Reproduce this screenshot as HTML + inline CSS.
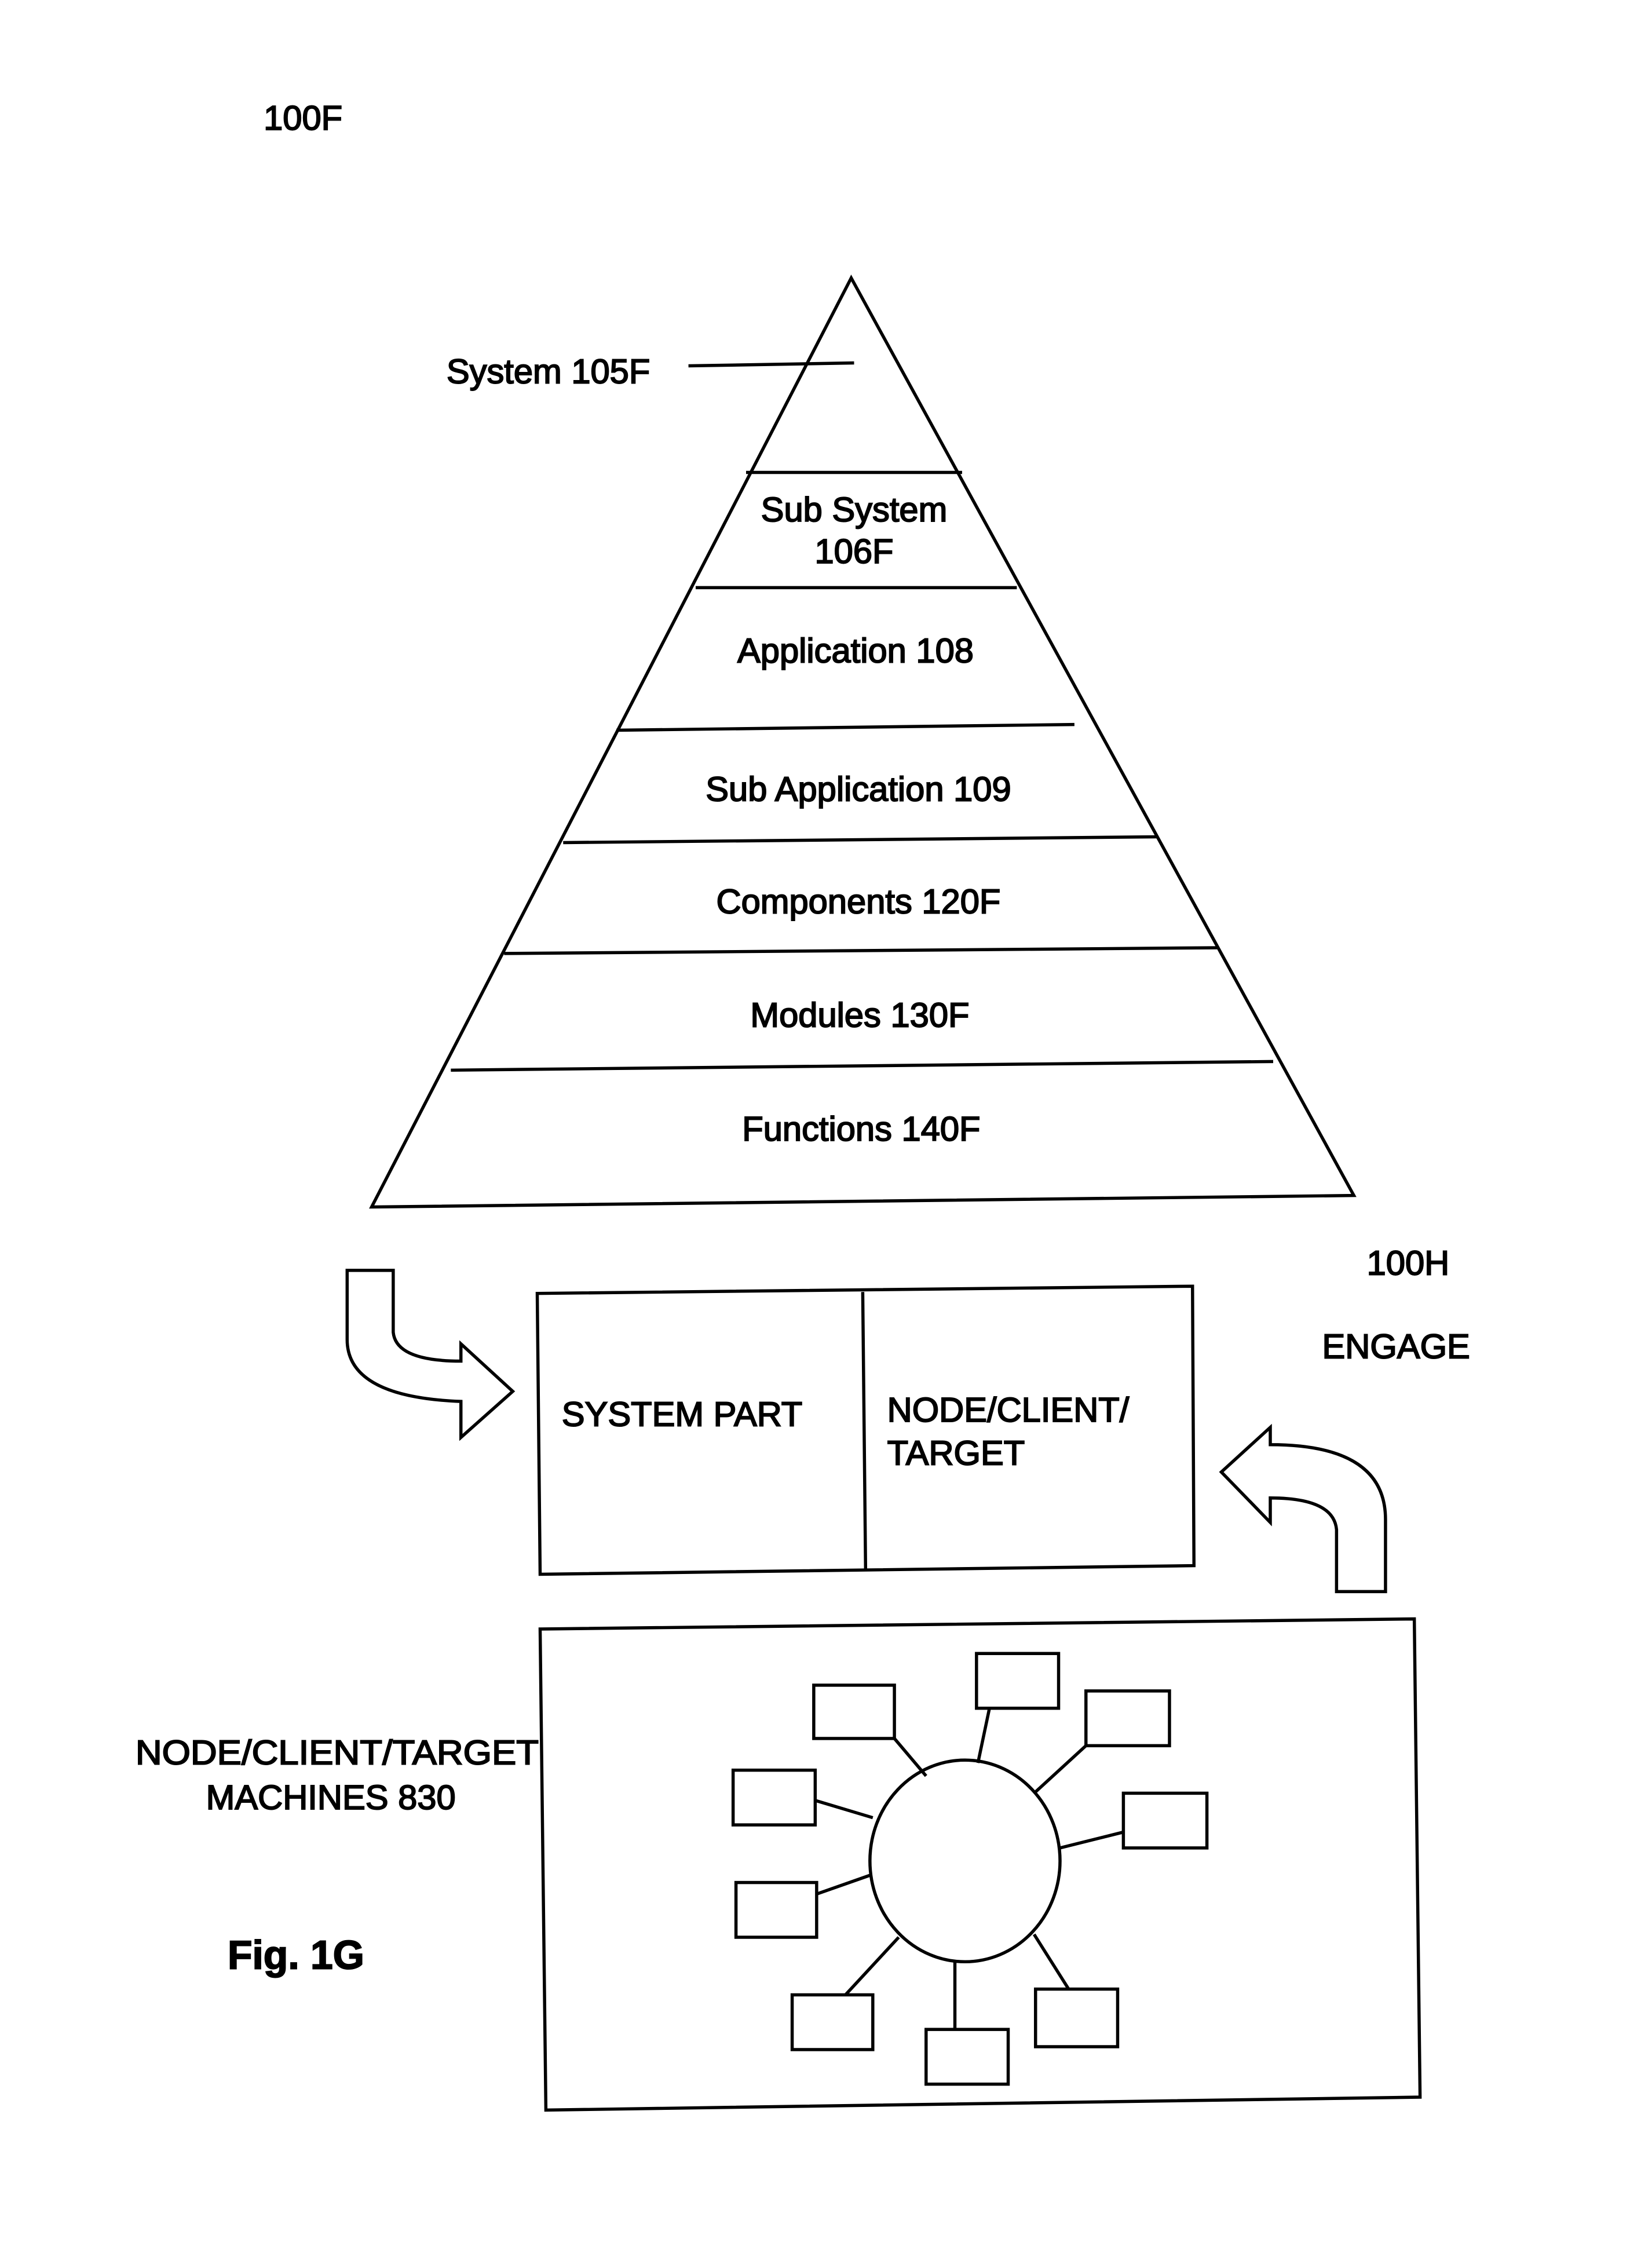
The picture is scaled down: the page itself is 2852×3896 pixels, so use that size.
<!DOCTYPE html>
<html><head><style>html,body{margin:0;padding:0;background:#fff}svg{display:block}</style></head>
<body>
<svg width="2852" height="3896" viewBox="0 0 1147 1567" xmlns="http://www.w3.org/2000/svg">
<g fill="none" stroke="#000" stroke-width="2.2">
<polygon points="591,193 258,838 940,830"/>
<line x1="518" y1="328" x2="668" y2="328"/>
<line x1="483" y1="408" x2="706" y2="408"/>
<line x1="428" y1="507" x2="746" y2="503"/>
<line x1="391" y1="585" x2="803" y2="581"/>
<line x1="350" y1="662" x2="845" y2="658"/>
<line x1="313" y1="743" x2="884" y2="737"/>
<line x1="478" y1="254" x2="593" y2="252"/>
<polygon points="373,898 828,893 829,1087 375,1093"/>
<line x1="599" y1="897" x2="601" y2="1091"/>
<path d="M241,882 L273,882 L273,925 Q275,945 320,945 L320,933 L356,966 L320,998 L320,973 Q241,970 241,930 Z"/>
<path d="M962,1105 L928,1105 L928,1062 Q926,1040 882,1040 L882,1057 L848,1022 L882,991 L882,1003 Q962,1003 962,1055 Z"/>
<polygon points="375,1131 982,1124 986,1456 379,1465"/>
<ellipse cx="670" cy="1292" rx="66" ry="70"/>
<rect x="565" y="1170" width="56" height="37"/>
<rect x="678" y="1148" width="57" height="38"/>
<rect x="754" y="1174" width="58" height="38"/>
<rect x="780" y="1245" width="58" height="38"/>
<rect x="509" y="1229" width="57" height="38"/>
<rect x="511" y="1307" width="56" height="38"/>
<rect x="550" y="1385" width="56" height="38"/>
<rect x="643" y="1409" width="57" height="38"/>
<rect x="719" y="1381" width="57" height="40"/>
<line x1="621" y1="1207" x2="643" y2="1233"/>
<line x1="687" y1="1186" x2="679" y2="1224"/>
<line x1="754" y1="1212" x2="718" y2="1245"/>
<line x1="780" y1="1272" x2="736" y2="1283"/>
<line x1="566" y1="1250" x2="606" y2="1262"/>
<line x1="567" y1="1315" x2="604" y2="1302"/>
<line x1="587" y1="1385" x2="624" y2="1345"/>
<line x1="663" y1="1409" x2="663" y2="1362"/>
<line x1="742" y1="1381" x2="718" y2="1343"/>
</g>
<g font-family="Liberation Sans, sans-serif" font-size="24" fill="#000" stroke="#000" stroke-width="0.8">
<text x="183" y="90">100F</text>
<text x="310" y="266">System 105F</text>
<g text-anchor="middle">
<text x="593" y="362">Sub System</text>
<text x="593" y="391">106F</text>
<text x="594" y="460">Application 108</text>
<text x="596" y="556">Sub Application 109</text>
<text x="596" y="634">Components 120F</text>
<text x="597" y="713">Modules 130F</text>
<text x="598" y="792">Functions 140F</text>
</g>
<text x="390" y="990">SYSTEM PART</text>
<text x="616" y="987">NODE/CLIENT/</text>
<text x="616" y="1017">TARGET</text>
<text x="949" y="885">100H</text>
<text x="918" y="943">ENGAGE</text>
<text x="94" y="1225" textLength="280" lengthAdjust="spacingAndGlyphs">NODE/CLIENT/TARGET</text>
<text x="143" y="1256">MACHINES 830</text>
<text x="158" y="1367" font-size="28" font-weight="bold">Fig. 1G</text>
</g>
</svg>
</body></html>
